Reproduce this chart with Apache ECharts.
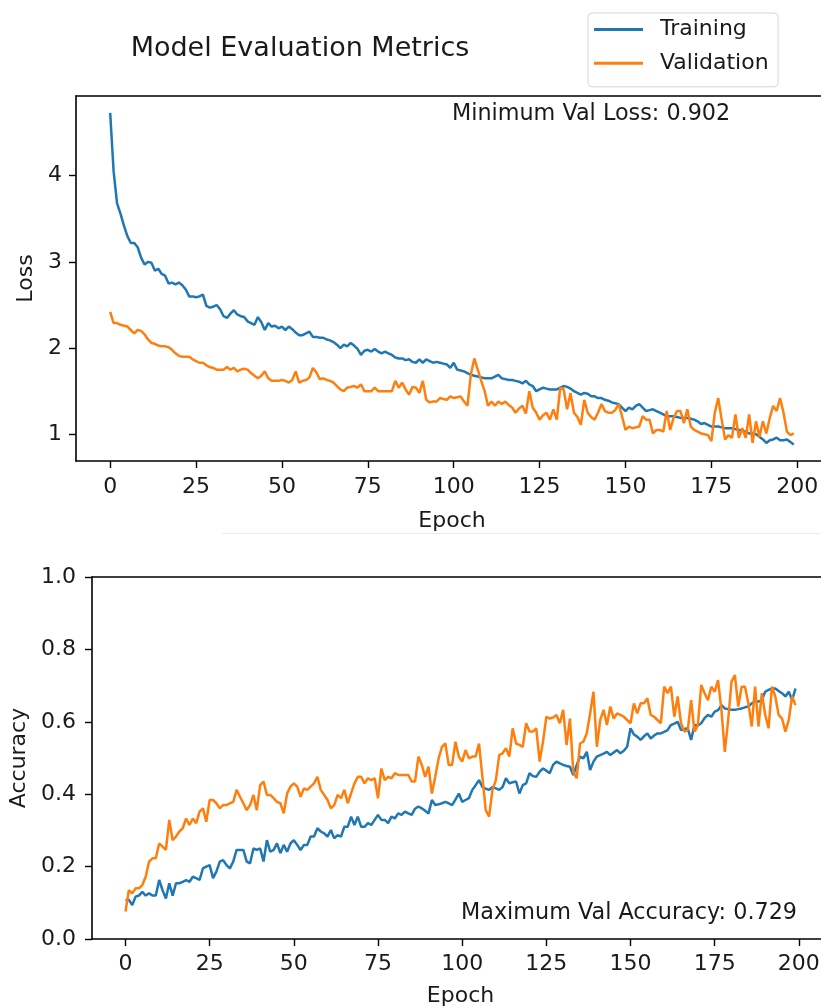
<!DOCTYPE html>
<html>
<head>
<meta charset="utf-8">
<script src="https://cdn.jsdelivr.net/npm/echarts@6/dist/echarts.min.js"></script>
<style>
html,body{margin:0;padding:0;background:#fff;}
#chart{width:821px;height:1008px;}
</style>
</head>
<body>
<div id="chart"></div>
<script>
// ---- data ----
const epochTicks = [0, 25, 50, 75, 100, 125, 150, 175, 200];
const lossTicks = [1, 2, 3, 4];
const seriesNames = ['Training', 'Validation'];

const trainLoss = [
  4.73,4.05,3.68,3.56,3.42,3.30,3.22,3.22,3.17,3.05,
  2.97,3.00,2.99,2.90,2.92,2.86,2.84,2.75,2.76,2.74,
  2.76,2.73,2.68,2.60,2.60,2.59,2.60,2.62,2.49,2.47,
  2.48,2.50,2.45,2.37,2.35,2.40,2.44,2.39,2.37,2.36,
  2.31,2.29,2.27,2.36,2.30,2.21,2.29,2.25,2.26,2.23,
  2.25,2.21,2.25,2.22,2.18,2.15,2.15,2.17,2.19,2.13,
  2.13,2.12,2.12,2.10,2.09,2.07,2.04,2.00,2.04,2.02,
  2.06,2.03,1.99,1.92,1.97,1.98,1.96,1.99,1.96,1.94,
  1.96,1.94,1.92,1.89,1.88,1.88,1.86,1.87,1.84,1.83,
  1.87,1.83,1.87,1.85,1.83,1.84,1.83,1.82,1.81,1.77,
  1.83,1.75,1.74,1.73,1.71,1.69,1.68,1.67,1.66,1.65,
  1.65,1.65,1.67,1.69,1.65,1.64,1.63,1.63,1.62,1.61,
  1.59,1.62,1.58,1.56,1.50,1.52,1.54,1.53,1.52,1.52,
  1.52,1.54,1.56,1.55,1.53,1.50,1.48,1.46,1.48,1.47,
  1.44,1.44,1.42,1.42,1.40,1.39,1.37,1.36,1.35,1.31,
  1.27,1.31,1.29,1.33,1.35,1.31,1.27,1.28,1.29,1.27,
  1.25,1.23,1.21,1.21,1.21,1.20,1.19,1.19,1.19,1.18,
  1.17,1.15,1.12,1.13,1.11,1.09,1.09,1.09,1.08,1.07,
  1.07,1.07,1.06,1.05,1.04,1.03,1.01,1.01,1.00,0.97,
  0.94,0.90,0.93,0.94,0.96,0.93,0.93,0.94,0.91,0.88
];
const valLoss = [
  2.42,2.29,2.29,2.27,2.26,2.25,2.21,2.17,2.21,2.20,
  2.16,2.10,2.06,2.05,2.03,2.02,2.02,2.01,1.98,1.94,
  1.91,1.90,1.90,1.90,1.87,1.85,1.83,1.83,1.80,1.78,
  1.77,1.75,1.75,1.75,1.78,1.75,1.77,1.73,1.75,1.76,
  1.75,1.71,1.68,1.65,1.68,1.73,1.65,1.62,1.62,1.62,
  1.63,1.62,1.60,1.63,1.73,1.60,1.62,1.63,1.66,1.77,
  1.72,1.64,1.65,1.63,1.62,1.60,1.56,1.52,1.50,1.54,
  1.55,1.56,1.54,1.58,1.50,1.50,1.50,1.54,1.50,1.50,
  1.50,1.50,1.50,1.62,1.54,1.60,1.52,1.46,1.55,1.54,
  1.48,1.62,1.40,1.37,1.38,1.38,1.42,1.41,1.40,1.44,
  1.42,1.43,1.44,1.38,1.33,1.70,1.88,1.75,1.62,1.50,
  1.33,1.38,1.33,1.38,1.35,1.38,1.34,1.31,1.25,1.30,
  1.33,1.24,1.50,1.31,1.25,1.17,1.22,1.25,1.17,1.29,
  1.17,1.54,1.52,1.29,1.48,1.25,1.20,1.11,1.40,1.25,
  1.20,1.17,1.25,1.35,1.27,1.25,1.25,1.28,1.35,1.21,
  1.05,1.09,1.07,1.08,1.09,1.21,1.17,1.17,1.01,1.05,
  1.05,1.03,1.27,1.05,1.19,1.27,1.27,1.13,1.29,1.09,
  1.05,1.03,1.01,1.00,0.99,0.92,1.25,1.42,1.17,0.94,
  0.99,0.96,1.23,0.96,1.07,0.96,1.23,0.902,1.15,0.97,
  1.15,1.01,1.19,1.33,1.27,1.42,1.25,1.03,0.99,1.01
];
const trainAcc = [
  .108,.108,.094,.117,.120,.130,.120,.126,.120,.120,
  .163,.135,.112,.154,.120,.154,.154,.158,.163,.158,
  .172,.168,.163,.195,.200,.204,.168,.186,.214,.218,
  .204,.195,.214,.246,.246,.246,.214,.209,.250,.246,
  .250,.214,.273,.241,.246,.264,.237,.260,.241,.264,
  .273,.260,.246,.260,.260,.283,.283,.306,.297,.292,
  .283,.301,.278,.287,.283,.310,.310,.338,.315,.338,
  .310,.310,.320,.315,.329,.343,.329,.329,.320,.338,
  .333,.347,.343,.352,.347,.343,.360,.366,.361,.354,
  .347,.384,.370,.372,.375,.379,.375,.370,.385,.402,
  .379,.384,.389,.412,.425,.439,.420,.415,.412,.420,
  .416,.412,.420,.444,.430,.433,.435,.402,.425,.430,
  .458,.450,.448,.462,.471,.465,.458,.481,.490,.485,
  .481,.478,.476,.453,.480,.504,.499,.517,.467,.490,
  .504,.508,.512,.517,.508,.515,.522,.513,.520,.531,
  .582,.565,.559,.550,.560,.568,.554,.562,.568,.568,
  .572,.577,.591,.595,.600,.577,.580,.582,.550,.591,
  .590,.596,.610,.619,.614,.628,.632,.646,.637,.635,
  .633,.633,.635,.637,.640,.642,.651,.656,.656,.660,
  .683,.688,.692,.692,.685,.679,.670,.683,.660,.692
];
const valAcc = [
  .076,.135,.126,.140,.140,.149,.172,.214,.223,.223,
  .264,.255,.246,.329,.273,.283,.297,.306,.333,.315,
  .333,.320,.352,.361,.324,.384,.384,.375,.361,.370,
  .370,.375,.379,.412,.393,.375,.356,.370,.398,.356,
  .425,.435,.398,.398,.389,.379,.375,.347,.402,.421,
  .430,.421,.393,.416,.412,.421,.430,.448,.412,.398,
  .384,.361,.370,.398,.389,.412,.375,.402,.430,.448,
  .448,.430,.444,.439,.444,.389,.471,.439,.448,.444,
  .458,.453,.453,.453,.453,.435,.435,.504,.481,.448,
  .476,.402,.448,.499,.531,.540,.481,.481,.545,.504,
  .490,.522,.499,.504,.504,.540,.448,.356,.338,.412,
  .439,.508,.513,.527,.504,.582,.540,.536,.531,.596,
  .573,.573,.582,.490,.545,.614,.609,.612,.619,.596,
  .633,.536,.609,.462,.444,.540,.545,.568,.623,.683,
  .531,.605,.633,.591,.642,.609,.623,.619,.614,.605,
  .596,.651,.623,.651,.651,.665,.619,.614,.605,.596,
  .697,.679,.697,.614,.670,.596,.573,.577,.660,.573,
  .591,.702,.679,.660,.697,.683,.715,.633,.517,.605,
  .711,.729,.642,.697,.697,.651,.587,.697,.587,.679,
  .620,.582,.697,.670,.619,.609,.573,.605,.670,.646
];

// ---- chart ----
const FONT = "'DejaVu Sans', sans-serif";
const TXT = '#1a1a1a';
const BLUE = '#1f77b4', ORANGE = '#ff7f0e';
const pairs = arr => arr.map((v, i) => [i, v]);
const minValLoss = Math.min.apply(null, valLoss);
const maxValAcc = Math.max.apply(null, valAcc);
const AXLINE = { show: true, onZero: false, lineStyle: { color: '#000', width: 1.6 } };

function xAxisCfg(gi, nameGap, margin) {
  return {
    type: 'value', gridIndex: gi, min: -9.95, max: 208.95, position: 'bottom',
    axisLine: AXLINE,
    axisTick: { show: true, customValues: epochTicks, length: 7, lineStyle: { color: '#000', width: 1.4 } },
    axisLabel: { customValues: epochTicks, fontSize: 22, fontFamily: FONT, color: TXT, margin: margin },
    splitLine: { show: false },
    name: 'Epoch', nameLocation: 'middle', nameGap: nameGap,
    nameTextStyle: { fontSize: 22, fontFamily: FONT, color: TXT }
  };
}
function topFrame(gi) {
  return {
    type: 'value', gridIndex: gi, min: -9.95, max: 208.95, position: 'top',
    axisLine: AXLINE, axisTick: { show: false }, axisLabel: { show: false },
    splitLine: { show: false }
  };
}

const chart = echarts.init(document.getElementById('chart'), null, { renderer: 'canvas' });
chart.setOption({
  animation: false,
  backgroundColor: '#fff',
  legend: {
    data: seriesNames,
    orient: 'vertical',
    left: 588, top: 13,
    icon: 'rect', itemWidth: 49, itemHeight: 3, itemGap: 11.7,
    padding: [5.6, 9.5, 12.5, 6],
    backgroundColor: '#fff',
    borderColor: '#d6d6d6', borderWidth: 1, borderRadius: 4,
    textStyle: { fontSize: 22, fontFamily: FONT, color: TXT, lineHeight: 22, padding: [0, 0, 0, 12] },
    selectedMode: false
  },
  grid: [
    { left: 76, top: 96, right: -7, bottom: 547, show: false, containLabel: false, outerBoundsMode: 'none' },
    { left: 92, top: 577, right: -8, bottom: 69, show: false, containLabel: false, outerBoundsMode: 'none' }
  ],
  xAxis: [xAxisCfg(0, 49, 15), xAxisCfg(1, 46, 14), topFrame(0), topFrame(1)],
  yAxis: [
    {
      type: 'value', gridIndex: 0, min: 0.69, max: 4.925,
      axisLine: AXLINE,
      axisTick: { show: true, customValues: lossTicks, length: 7, lineStyle: { color: '#000', width: 1.4 } },
      axisLabel: { customValues: lossTicks, fontSize: 22, fontFamily: FONT, color: TXT, margin: 14 },
      splitLine: { show: false },
      name: 'Loss', nameLocation: 'middle', nameGap: 38,
      nameTextStyle: { fontSize: 22, fontFamily: FONT, color: TXT }
    },
    {
      type: 'value', gridIndex: 1, min: 0, max: 1, interval: 0.2,
      axisLine: AXLINE,
      axisTick: { show: true, length: 7, lineStyle: { color: '#000', width: 1.4 } },
      axisLabel: { fontSize: 22, fontFamily: FONT, color: TXT, margin: 16, formatter: v => v.toFixed(1) },
      splitLine: { show: false },
      name: 'Accuracy', nameLocation: 'middle', nameGap: 61,
      nameTextStyle: { fontSize: 22, fontFamily: FONT, color: TXT }
    }
  ],
  series: [
    { name: seriesNames[0], type: 'line', xAxisIndex: 0, yAxisIndex: 0, data: pairs(trainLoss), showSymbol: false, color: BLUE, lineStyle: { width: 2.5, color: BLUE }, emphasis: { disabled: true } },
    { name: seriesNames[1], type: 'line', xAxisIndex: 0, yAxisIndex: 0, data: pairs(valLoss), showSymbol: false, color: ORANGE, lineStyle: { width: 2.5, color: ORANGE }, emphasis: { disabled: true } },
    { name: seriesNames[0], type: 'line', xAxisIndex: 1, yAxisIndex: 1, data: pairs(trainAcc), showSymbol: false, color: BLUE, lineStyle: { width: 2.5, color: BLUE }, emphasis: { disabled: true } },
    { name: seriesNames[1], type: 'line', xAxisIndex: 1, yAxisIndex: 1, data: pairs(valAcc), showSymbol: false, color: ORANGE, lineStyle: { width: 2.5, color: ORANGE }, emphasis: { disabled: true } }
  ],
  graphic: [
    { type: 'text', x: 300, y: 49, style: { text: 'Model Evaluation Metrics', fontSize: 27, fontFamily: FONT, fill: TXT, align: 'center', verticalAlign: 'middle', textAlign: 'center', textVerticalAlign: 'middle' } },
    { type: 'text', x: 452, y: 114, style: { text: 'Minimum Val Loss: ' + minValLoss.toFixed(3), fontSize: 22.3, fontFamily: FONT, fill: TXT, align: 'left', verticalAlign: 'middle', textAlign: 'left', textVerticalAlign: 'middle' } },
    { type: 'text', x: 461, y: 913.5, style: { text: 'Maximum Val Accuracy: ' + maxValAcc.toFixed(3), fontSize: 22.3, fontFamily: FONT, fill: TXT, align: 'left', verticalAlign: 'middle', textAlign: 'left', textVerticalAlign: 'middle' } },
    { type: 'line', shape: { x1: 222, y1: 533.5, x2: 821, y2: 533.5 }, style: { stroke: '#ececec', lineWidth: 1 } }
  ]
});
</script>
</body>
</html>
